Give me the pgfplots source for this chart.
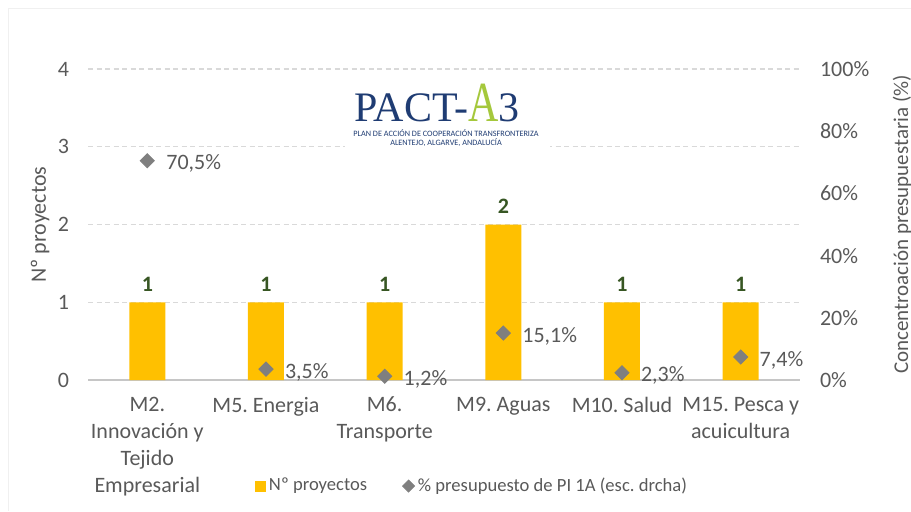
\documentclass[border=0pt]{standalone}
\usepackage{pgfplots}
\pgfplotsset{compat=1.18}
\usepackage{fontspec}
\setmainfont{Carlito}
\newfontfamily\logofont{Liberation Serif}
\frenchspacing
\definecolor{barc}{HTML}{FFC000}
\definecolor{txt}{HTML}{595959}
\definecolor{gridc}{HTML}{D9D9D9}
\definecolor{lbl}{HTML}{375623}
\definecolor{diam}{HTML}{7F7F7F}
\definecolor{navy}{HTML}{1F3C73}
\definecolor{agreen}{HTML}{A5C83C}
\pgfplotsset{
  /pgf/number format/assume math mode=true,
  common/.style={
    at={(44pt,65.5pt)}, anchor=south west,
    scale only axis, width=356pt, height=155.5pt,
    xmin=-0.5, xmax=5.5,
    major tick length=0pt,
    ticklabel style={font=\fontsize{11}{13}\selectfont, text=txt},
  }
}
\begin{document}
\begin{tikzpicture}
\draw[gray!12, line width=0.5pt] (4pt,0) -- (4pt,251.5pt) -- (455.5pt,251.5pt);
\begin{axis}[common,
  ymin=0, ymax=4,
  axis x line*=bottom, axis y line*=left,
  x axis line style={draw=gray!45, line width=0.6pt, -},
  y axis line style={draw=none},
  ytick={0,1,2,3,4},
  ymajorgrids,
  major grid style={gridc, dash pattern=on 2.5pt off 1.75pt, line width=0.6pt},
  xtick={0,1,2,3,4,5},
  xticklabels={{M2.\\Innovación y\\Tejido\\Empresarial},{M5. Energia},{M6.\\Transporte},{M9. Aguas},{M10. Salud},{M15. Pesca y\\acuicultura}},
  xticklabel style={align=center, anchor=north, yshift=-5pt, font=\fontsize{11}{13.5}\selectfont},
  yticklabel style={anchor=east, xshift=-6pt},
  ylabel={Nº proyectos},
  ylabel style={at={(axis description cs:-0.0674,0.5)}, anchor=center, font=\fontsize{11}{13}\selectfont, text=txt},
  legend style={at={(axis description cs:0.54,-0.341)}, anchor=center, draw=none, fill=none,
    legend columns=2, font=\fontsize{9.3}{11}\selectfont, text=txt,
    /tikz/every even column/.append style={column sep=16pt},
    nodes={inner sep=1.5pt}},
]
\addplot[ybar, bar width=18pt, fill=barc, draw=none,
  nodes near coords,
  nodes near coords style={font=\bfseries\fontsize{11}{12}\selectfont, text=lbl, anchor=south, yshift=2pt},
  legend image code/.code={\fill[barc] (0pt,-2.75pt) rectangle (5.5pt,2.75pt);}]
  coordinates {(0,1) (1,1) (2,1) (3,2) (4,1) (5,1)};
\addlegendentry{Nº proyectos}
\addlegendimage{legend image code/.code={\fill[diam] (2.75pt,-3pt) -- (5.75pt,0pt) -- (2.75pt,3pt) -- (-0.25pt,0pt) -- cycle;}}
\addlegendentry{\% presupuesto de PI 1A (esc. drcha)}
\end{axis}
\begin{axis}[common,
  ymin=0, ymax=100,
  axis x line=none, axis y line*=right,
  y axis line style={draw=none},
  ytick={0,20,40,60,80,100},
  yticklabel={\pgfmathprintnumber{\tick}\%},
  yticklabel style={anchor=west, xshift=6.5pt},
  ylabel={Concentroación presupuestaria (\%)},
  ylabel style={at={(axis description cs:1.1433,0.5)}, anchor=center, inner sep=0pt, font=\fontsize{10.5}{12}\selectfont, text=txt},
]
\addplot[only marks, mark=square*, mark size=2.5pt, mark options={rotate=45, fill=diam, draw=diam},
  nodes near coords={\pgfmathprintnumber[fixed,fixed zerofill,precision=1,use comma]{\pgfplotspointmeta}\%},
  nodes near coords style={font=\fontsize{11}{12}\selectfont, text=txt, anchor=west, xshift=6pt, yshift=-1.5pt}]
  coordinates {(0,70.5) (1,3.5) (2,1.2) (3,15.1) (4,2.3) (5,7.4)};
\end{axis}
\fill[white] (172.5pt,179.5pt) rectangle (275pt,218pt);
\node[anchor=base west, inner sep=0, text=navy] at (177pt,195pt)
  {\logofont\fontsize{21}{21}\selectfont PACT-{\color{agreen}\scalebox{1}[1.35]{A}}3};
\node[anchor=base, inner sep=0, text=navy, font=\fontsize{4.1}{4}\selectfont] at (223pt,187.5pt) {PLAN DE ACCIÓN DE COOPERACIÓN TRANSFRONTERIZA};
\node[anchor=base, inner sep=0, text=navy, font=\fontsize{4.1}{4}\selectfont] at (223pt,183pt) {ALENTEJO, ALGARVE, ANDALUCÍA};
\pgfresetboundingbox
\path (0,0) rectangle (455.5pt,255.5pt);
\end{tikzpicture}
\end{document}
